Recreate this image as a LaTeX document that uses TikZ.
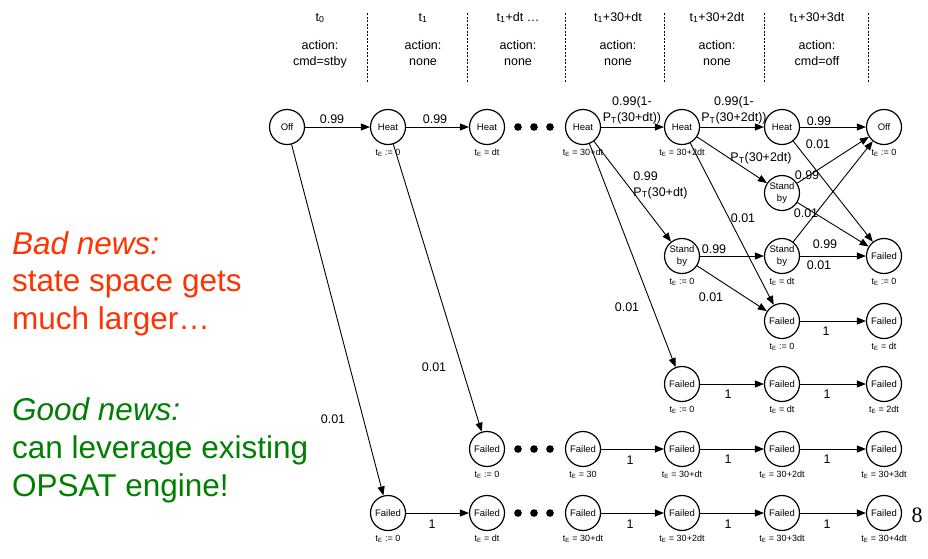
\documentclass[tikz,border=0pt]{standalone}
\usepackage{fontspec}
\setmainfont{Liberation Sans}
\newfontfamily\pagefont{Liberation Serif}
\usetikzlibrary{arrows.meta}
\definecolor{badred}{RGB}{255,51,0}
\definecolor{goodgreen}{RGB}{0,128,0}
\newcommand{\tE}[1]{t\textsubscript{E} #1}
\newcommand{\PT}{P\textsubscript{T}}
\tikzset{
  state/.style={circle, draw, line width=1.2pt, minimum size=35pt, inner sep=0pt,
    align=center, font=\fontsize{9.5}{11.5}\selectfont},
  tlab/.style={inner sep=0pt, font=\fontsize{9}{10}\selectfont},
  elab/.style={inner sep=0pt, font=\fontsize{12.5}{16}\selectfont, align=center},
  arr/.style={line width=0.9pt, -{Triangle[length=9pt,width=7pt]}},
  hdr/.style={anchor=base, inner sep=0pt, font=\fontsize{12.5}{15}\selectfont},
  sepline/.style={line width=0.9pt, dash pattern=on 2.2pt off 1.3pt},
  news/.style={anchor=base west, inner sep=0pt, font=\fontsize{31.5}{37.5}\selectfont},
  newsit/.style={news, font=\fontsize{31.5}{37.5}\selectfont\itshape},
}
\begin{document}
\begin{tikzpicture}[x=1pt, y=-1pt, label distance=4pt]
\fill[white] (0,0) rectangle (928,558);
\useasboundingbox (0,0) rectangle (928,558);

% column headers
\node[hdr] (c0t) at (320,21) {t\textsubscript{0}};
\node[hdr] (c0a) at (320,49.5) {action:};
\node[hdr] (c0b) at (320,65) {cmd=stby};
\node[hdr] (c1t) at (423,21) {t\textsubscript{1}};
\node[hdr] (c1a) at (423,49.5) {action:};
\node[hdr] (c1b) at (423,65) {none};
\node[hdr] (c2t) at (518,21) {t\textsubscript{1}+dt …};
\node[hdr] (c2a) at (518,49.5) {action:};
\node[hdr] (c2b) at (518,65) {none};
\node[hdr] (c3t) at (618,21) {t\textsubscript{1}+30+dt};
\node[hdr] (c3a) at (618,49.5) {action:};
\node[hdr] (c3b) at (618,65) {none};
\node[hdr] (c4t) at (717,21) {t\textsubscript{1}+30+2dt};
\node[hdr] (c4a) at (717,49.5) {action:};
\node[hdr] (c4b) at (717,65) {none};
\node[hdr] (c5t) at (817,21) {t\textsubscript{1}+30+3dt};
\node[hdr] (c5a) at (817,49.5) {action:};
\node[hdr] (c5b) at (817,65) {cmd=off};

% column separators
\foreach \x in {367,467,565,664,764,868}
  \draw[sepline] (\x,13) -- (\x,82);

% states
\node[state] (off0) at (287,127) {Off};
\node[state, label={[tlab]below:{\tE{:= 0}}}] (h1) at (388,127) {Heat};
\node[state, label={[tlab]below:{\tE{= dt}}}] (h2) at (487,127) {Heat};
\node[state, label={[tlab]below:{\tE{= 30+dt}}}] (h3) at (583,127) {Heat};
\node[state, label={[tlab]below:{\tE{= 30+2dt}}}] (h4) at (682,127) {Heat};
\node[state] (h5) at (782,127) {Heat};
\node[state, label={[tlab]below:{\tE{:= 0}}}] (off6) at (884,127) {Off};

\node[state] (sbA) at (782,193) {Stand\\by};
\node[state, label={[tlab]below:{\tE{:= 0}}}] (sb4) at (682,256) {Stand\\by};
\node[state, label={[tlab]below:{\tE{= dt}}}] (sb5) at (782,256) {Stand\\by};
\node[state, label={[tlab]below:{\tE{:= 0}}}] (f6a) at (884,256) {Failed};

\node[state, label={[tlab]below:{\tE{:= 0}}}] (f5b) at (782,321) {Failed};
\node[state, label={[tlab]below:{\tE{= dt}}}] (f6b) at (884,321) {Failed};

\node[state, label={[tlab]below:{\tE{:= 0}}}] (f4c) at (682,384) {Failed};
\node[state, label={[tlab]below:{\tE{= dt}}}] (f5c) at (782,384) {Failed};
\node[state, label={[tlab]below:{\tE{= 2dt}}}] (f6c) at (884,384) {Failed};

\node[state, label={[tlab]below:{\tE{:= 0}}}] (f2d) at (487,449) {Failed};
\node[state, label={[tlab]below:{\tE{= 30}}}] (f3d) at (583,449) {Failed};
\node[state, label={[tlab]below:{\tE{= 30+dt}}}] (f4d) at (682,449) {Failed};
\node[state, label={[tlab]below:{\tE{= 30+2dt}}}] (f5d) at (782,449) {Failed};
\node[state, label={[tlab]below:{\tE{= 30+3dt}}}] (f6d) at (884,449) {Failed};

\node[state, label={[tlab]below:{\tE{:= 0}}}] (f1e) at (388,513) {Failed};
\node[state, label={[tlab]below:{\tE{= dt}}}] (f2e) at (487,513) {Failed};
\node[state, label={[tlab]below:{\tE{= 30+dt}}}] (f3e) at (583,513) {Failed};
\node[state, label={[tlab]below:{\tE{= 30+2dt}}}] (f4e) at (682,513) {Failed};
\node[state, label={[tlab]below:{\tE{= 30+3dt}}}] (f5e) at (782,513) {Failed};
\node[state, label={[tlab]below:{\tE{= 30+4dt}}}] (f6e) at (884,513) {Failed};

% elided time steps
\foreach \x in {518,534,550} {
  \fill (\x,127) circle (3.8pt);
  \fill (\x,449) circle (3.8pt);
  \fill (\x,513) circle (3.8pt);
}

% transitions
\draw[arr] (off0) -- (h1) node[elab] at (332,119) {0.99};
\draw[arr] (h1) -- (h2) node[elab] at (435,119) {0.99};
\draw[arr] (h3) -- (h4) node[elab] at (632,110) {0.99(1-\\\PT(30+dt))};
\draw[arr] (h4) -- (h5) node[elab] at (734,110) {0.99(1-\\\PT(30+2dt))};
\draw[arr] (h5) -- (off6) node[elab] at (819,121) {0.99};
\draw[arr] (h5) -- (f6a) node[elab] at (818,144) {0.01};
\draw[arr] (h4) -- (sbA) node[elab] at (761,158) {\PT(30+2dt)};
\draw[arr] (sbA) -- (off6) node[elab] at (807,175) {0.99};
\draw[arr] (sbA) -- (f6a) node[elab] at (806,213) {0.01};
\draw[arr] (sb5) -- (off6) node[elab] at (825,244) {0.99};
\draw[arr] (sb5) -- (f6a) node[elab] at (819,265) {0.01};
\draw[arr] (h3) -- (sb4) node[elab, align=left, anchor=west] at (633,185) {0.99\\\PT(30+dt)};
\draw[arr] (h3) -- (f4c) node[elab] at (627,307) {0.01};
\draw[arr] (h4) -- (f5b) node[elab] at (743,218) {0.01};
\draw[arr] (sb4) -- (sb5) node[elab] at (714,249) {0.99};
\draw[arr] (sb4) -- (f5b) node[elab] at (711,297) {0.01};
\draw[arr] (f5b) -- (f6b) node[elab] at (826,331) {1};
\draw[arr] (f4c) -- (f5c) node[elab] at (728,394) {1};
\draw[arr] (f5c) -- (f6c) node[elab] at (827,394) {1};
\draw[arr] (h1) -- (f2d) node[elab] at (434,367) {0.01};
\draw[arr] (off0) -- (f1e) node[elab] at (333,419) {0.01};
\draw[arr] (f3d) -- (f4d) node[elab] at (630,460) {1};
\draw[arr] (f4d) -- (f5d) node[elab] at (728,459) {1};
\draw[arr] (f5d) -- (f6d) node[elab] at (827,459) {1};
\draw[arr] (f1e) -- (f2e) node[elab] at (432,524) {1};
\draw[arr] (f3e) -- (f4e) node[elab] at (630,524) {1};
\draw[arr] (f4e) -- (f5e) node[elab] at (728,524) {1};
\draw[arr] (f5e) -- (f6e) node[elab] at (827,524) {1};

% side notes
\node[newsit, text=badred] (bad1) at (12,254) {Bad news:};
\node[news, text=badred] (bad2) at (12,291.5) {state space gets};
\node[news, text=badred] (bad3) at (12,329) {much larger…};
\node[newsit, text=goodgreen] (good1) at (12,420) {Good news:};
\node[news, text=goodgreen] (good2) at (12,458) {can leverage existing};
\node[news, text=goodgreen] (good3) at (12,496) {OPSAT engine!};

% page number
\node[anchor=base, inner sep=0pt, font=\pagefont\fontsize{22}{24}\selectfont] (pg) at (917,522) {8};
\end{tikzpicture}
\end{document}
